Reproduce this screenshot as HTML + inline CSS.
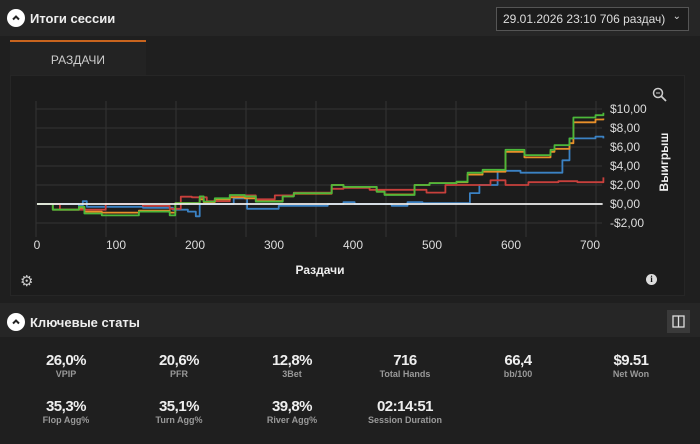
<!DOCTYPE html>
<html><head><meta charset="utf-8"><style>
*{margin:0;padding:0;box-sizing:border-box}
body{width:700px;height:444px;background:#1f1f1f;font-family:"Liberation Sans","Noto Sans CJK SC",sans-serif;color:#ddd;position:relative;overflow:hidden}
.abs{position:absolute}
.hdr{left:0;top:0;width:700px;height:36px;background:#262626}
.circ{width:18px;height:18px;border-radius:50%;background:#fff}
.title{font-weight:bold;font-size:13px;color:#eee}
.stat{position:absolute;width:110px;text-align:center}
.stat .v{font-size:15px;color:#eee;height:17px;font-weight:bold;letter-spacing:-0.5px}
.stat .l{font-size:9px;color:#999;margin-top:0;font-weight:bold}
</style></head><body>
<div class="abs hdr"></div>
<div class="abs circ" style="left:7px;top:9px"><svg width="18" height="18"><path d="M6 10.5L9 7.5L12 10.5" stroke="#222" stroke-width="2" fill="none"/></svg></div>
<div class="abs title" style="left:30px;top:11px">Итоги сессии</div>
<div class="abs" style="left:496px;top:7px;width:193px;height:24px;border:1px solid #555;background:#1c1c1c;font-size:12px;color:#ddd;padding:4px 0 0 6px">29.01.2026 23:10 706 раздач) <span style="position:absolute;right:7px;top:3px;font-size:10px">&#8964;</span></div>
<div class="abs" style="left:10px;top:40px;width:136px;height:36px;background:#232323;border-top:2px solid #c8641e;font-size:12px;color:#ccc;text-align:center;padding-top:11px">РАЗДАЧИ</div>
<div class="abs" style="left:10px;top:75px;width:675px;height:221px;background:#1c1c1c;border:1px solid #262626"></div>
<svg class="abs" style="left:0;top:0" width="700" height="300" id="chart"></svg>
<div class="abs" style="left:20px;top:272px;font-size:15px;color:#ccc">&#9881;</div>
<div class="abs" style="left:646px;top:274px;width:11px;height:11px;border-radius:50%;background:#ddd;color:#111;font-size:9px;font-weight:bold;text-align:center;line-height:11px;font-family:'Liberation Serif',serif">i</div>
<div class="abs" style="left:652px;top:87px"><svg width="16" height="16"><circle cx="6" cy="6" r="4.5" stroke="#ccc" stroke-width="1.5" fill="none"/><line x1="9.5" y1="9.5" x2="14" y2="14" stroke="#ccc" stroke-width="1.8"/><line x1="4" y1="6" x2="8" y2="6" stroke="#ccc"/></svg></div>
<div class="abs" style="left:0;top:303px;width:700px;height:34px;background:#262626"></div>
<div class="abs circ" style="left:7px;top:313px"><svg width="18" height="18"><path d="M6 10.5L9 7.5L12 10.5" stroke="#222" stroke-width="2" fill="none"/></svg></div>
<div class="abs title" style="left:30px;top:315px">Ключевые статы</div>
<div class="abs" style="left:667px;top:310px;width:23px;height:23px;background:#3a3a3a"><svg width="23" height="23"><rect x="6" y="6" width="11" height="11" stroke="#ddd" fill="none" stroke-width="1.3"/><line x1="11.5" y1="6" x2="11.5" y2="17" stroke="#ddd" stroke-width="1.3"/></svg></div>
<div id="stats"></div>
<script>
const ns="http://www.w3.org/2000/svg";
const hands=[0,20,53,60,82,129,158,168,175,201,206,211,225,244,263,277,311,325,373,388,430,440,478,497,531,545,564,593,617,650,655,674,679,707,717];
const greenVals=[0,-0.6,-0.3,-1.0,-1.2,-0.8,-0.8,-1.2,0.1,0.1,0.8,0.25,0.6,0.95,0.8,0.25,0.8,1.15,2.0,1.8,1.3,0.95,2.0,2.2,2.35,3.3,3.6,5.7,5.15,5.7,6.2,6.9,9.1,9.35,9.6];
const orangeVals=[0,-0.6,-0.4,-0.8,-0.9,-0.7,-0.7,-0.9,0.1,0.1,0.5,0.2,0.5,0.7,0.6,0.3,0.8,1.1,2.0,1.8,1.3,1.0,2.0,2.2,2.3,3.1,3.4,5.5,4.9,5.5,5.8,6.4,8.6,8.9,9.0];
const redHands=[0,29,87,134,168,182,196,215,244,277,301,325,373,388,421,469,493,517,545,574,593,622,660,684,717];
const redVals=[0,-0.6,0,-0.2,-0.5,0.77,0.7,0.3,0.9,0.5,0.9,1.2,1.6,1.7,1.5,1.5,1.2,2.0,2.0,2.5,2.0,2.3,2.4,2.3,2.8];
const blueHands=[0,53,58,63,134,172,191,201,206,249,263,266,306,368,388,402,440,449,469,488,545,548,560,583,612,650,665,674,707,717];
const blueVals=[0,-0.2,0.3,-0.3,-0.4,-0.6,-0.8,-1.3,0,0.6,0.6,-0.5,-0.2,0,0.2,0,0,-0.2,0.2,0.1,0.1,1.15,2.0,3.5,3.3,3.3,4.6,6.9,7.1,6.9];
const xTicks=[0,100,200,300,400,500,600,700];
const yTicks=[-2,0,2,4,6,8,10];
const yTickLabels=["-$2,00","$0,00","$2,00","$4,00","$6,00","$8,00","$10,00"];
const X=h=>37+h*0.79, Y=v=>204-v*9.5;
const svg=document.getElementById('chart');
function mk(t,a){const e=document.createElementNS(ns,t);for(const k in a)e.setAttribute(k,a[k]);svg.appendChild(e);return e;}
for(let gx=36;gx<=602;gx+=70){const l=mk('line',{x1:gx,x2:gx,y1:101,y2:237,stroke:'#333','stroke-width':1});

}
yTicks.forEach((v,i)=>{const l=mk('line',{x1:36,x2:602,y1:Y(v),y2:Y(v),stroke:'#333'});


const t=mk('text',{x:610,y:Y(v)+4,fill:'#ddd','font-size':12,'font-family':'Liberation Sans'});t.textContent=yTickLabels[i];

});
xTicks.forEach(v=>{const t=mk('text',{x:X(v),y:249,fill:'#ddd','font-size':12,'text-anchor':'middle','font-family':'Liberation Sans'});t.textContent=v;

});
const xt=mk('text',{x:320,y:274,fill:'#eee','font-size':12,'font-weight':'bold','text-anchor':'middle','font-family':'Liberation Sans'});xt.textContent='Раздачи';


const yt=mk('text',{x:0,y:0,fill:'#eee','font-size':12,'font-weight':'bold','text-anchor':'middle','font-family':'Liberation Sans',transform:'translate(668,162) rotate(-90)'});yt.textContent='Выигрыш';


function line(hs,vs,c,name){let d='M'+X(hs[0]).toFixed(1)+','+Y(vs[0]).toFixed(1);
for(let i=1;i<hs.length;i++){d+=' H'+X(hs[i]).toFixed(1)+' V'+Y(vs[i]).toFixed(1);}
const e=mk('path',{d:d,fill:'none',stroke:c,'stroke-width':1.8,'stroke-linejoin':'round'});

}
line(blueHands,blueVals,'#3b82c4','series-blue');
line(redHands,redVals,'#c8403c','series-red');
line(hands,orangeVals,'#e8902a','series-orange');
line(hands,greenVals,'#4cb83a','series-green');
const zl=mk('line',{x1:X(0),x2:X(716),y1:Y(0),y2:Y(0),stroke:'#eee','stroke-width':1.8});


const stats=[["26,0%","VPIP",66,362],["20,6%","PFR",179,362],["12,8%","3Bet",292,362],["716","Total Hands",405,362],["66,4","bb/100",518,362],["$9.51","Net Won",631,362],["35,3%","Flop Agg%",66,408],["35,1%","Turn Agg%",179,408],["39,8%","River Agg%",292,408],["02:14:51","Session Duration",405,408]];
const sc=document.getElementById('stats');
stats.forEach(s=>{const d=document.createElement('div');d.className='stat';d.style.left=(s[2]-55)+'px';d.style.top=(s[3]-10)+'px';


d.innerHTML='<div class="v">'+s[0]+'</div><div class="l">'+s[1]+'</div>';sc.appendChild(d);});
</script>
</body></html>
